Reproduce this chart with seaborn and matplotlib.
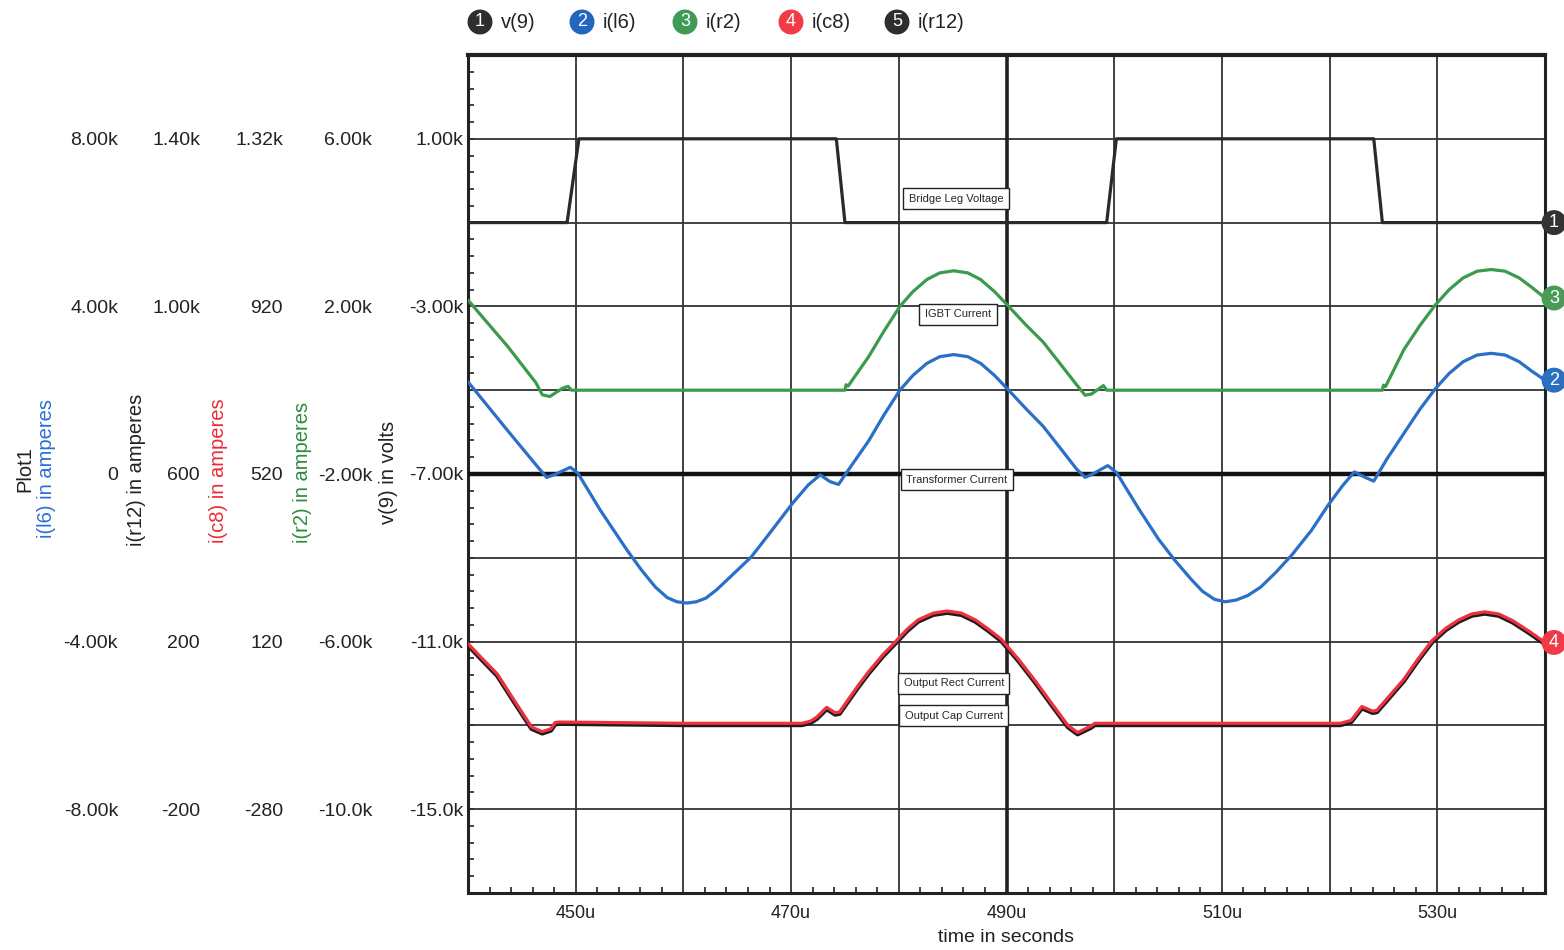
import matplotlib
matplotlib.use("Agg")
import matplotlib.pyplot as plt
import seaborn as sns
import numpy as np
from matplotlib.ticker import FixedLocator, MultipleLocator

sns.set_style("white")
plt.rcParams['font.family'] = ['Liberation Sans', 'DejaVu Sans']

# ---------------- data (time in microseconds) ----------------
v9_time = [440.0, 449.2, 450.3, 474.2, 475.0, 499.3, 500.2, 524.1, 524.9, 540.0]
v9_volts = [-1000, -1000, 1000, 1000, -1000, -1000, 1000, 1000, -1000, -1000]

l6_time = [440.0, 443.7, 446.5, 447.3, 448.0, 449.5, 450.2, 452.3, 454.8, 456.1, 457.4, 458.5,
           459.4, 460.3, 461.2, 462.1, 463.1, 464.5, 466.3, 468.2, 470.1, 471.6, 472.7, 473.6,
           474.4, 475.6, 477.2, 478.6, 480.1, 481.3, 482.6, 483.8, 485.1, 486.4, 487.6, 488.9,
           490.2, 491.8, 493.4, 495.2, 496.5, 497.3, 498.0, 499.4, 500.2, 502.3, 504.1, 505.6,
           507.1, 508.2, 509.3, 510.3, 511.3, 512.4, 513.6, 515.0, 516.5, 518.3, 519.9, 521.2,
           522.3, 523.3, 524.1, 525.3, 526.9, 528.4, 529.8, 531.1, 532.4, 533.7, 535.0, 536.3,
           537.6, 538.8, 540.0]
l6_amps = [2200, 1030, 160, -80, -20, 160, 20, -870, -1830, -2290, -2700, -2950,
           -3050, -3080, -3050, -2960, -2760, -2420, -1980, -1350, -710, -260, -20, -180,
           -250, 200, 790, 1400, 2000, 2350, 2640, 2800, 2850, 2800, 2640, 2350,
           2000, 1560, 1140, 550, 120, -80, 0, 200, 40, -840, -1550, -2050,
           -2500, -2800, -2990, -3050, -3010, -2900, -2700, -2350, -1930, -1350, -730, -280,
           50, -80, -170, 350, 970, 1550, 2030, 2400, 2680, 2840, 2880, 2840,
           2680, 2450, 2240]

r2_time = [440.0, 443.7, 446.3, 446.9, 447.6, 448.8, 449.3, 449.6, 475.0, 475.1, 475.3, 477.2,
           478.6, 480.1, 481.3, 482.6, 483.8, 485.1, 486.4, 487.6, 488.9, 490.2, 491.8, 493.4,
           495.2, 496.6, 497.3, 497.9, 499.0, 499.3, 524.9, 525.0, 525.2, 526.9, 528.4, 529.8,
           531.1, 532.4, 533.7, 535.0, 536.3, 537.6, 538.8, 540.0]
r2_amps = [2150, 1040, 180, -110, -150, 50, 90, 0, 0, 130, 100, 800,
           1400, 2000, 2350, 2640, 2800, 2850, 2800, 2640, 2350, 2000, 1560, 1150,
           560, 100, -120, -90, 110, 0, 0, 120, 90, 970, 1550, 2030,
           2400, 2680, 2840, 2880, 2840, 2680, 2450, 2200]

c8_time = [440.0, 441.3, 442.7, 444.3, 445.9, 446.9, 447.7, 448.1, 448.5, 460.0, 471.0, 471.8,
           472.4, 473.3, 474.1, 474.5, 476.2, 477.2, 478.5, 479.7, 480.8, 481.8, 483.2, 484.5,
           485.8, 487.1, 488.3, 489.5, 491.1, 492.7, 494.2, 495.7, 496.6, 497.8, 498.2, 510.0,
           521.0, 522.0, 523.0, 524.0, 524.4, 526.9, 528.2, 529.5, 530.8, 532.0, 533.2, 534.4,
           535.7, 537.0, 538.5, 540.0]
c8_amps = [115, 80, 43, -21, -84, -95, -88, -73, -72, -75, -75, -70,
           -60, -37, -50, -48, 14, 48, 88, 120, 150, 172, 188, 193,
           188, 172, 150, 126, 78, 25, -28, -80, -97, -82, -75, -75,
           -75, -68, -35, -46, -44, 30, 78, 122, 152, 172, 186, 191,
           186, 170, 145, 118]

r12_time = list(c8_time)
r12_amps = [191, 156, 119, 55, -8, -19, -12, 3, 4, 1, 1, 6,
            16, 39, 26, 28, 90, 124, 164, 196, 226, 248, 264, 269,
            264, 248, 226, 202, 154, 101, 48, -4, -21, -6, 1, 1,
            1, 8, 41, 30, 32, 106, 154, 198, 228, 248, 262, 267,
            262, 246, 221, 194]

x_ticks = [450, 470, 490, 510, 530]
x_ticklabels = ['450u', '470u', '490u', '510u', '530u']

v9_ticks = [1000, -3000, -7000, -11000, -15000]
v9_ticklabels = ['1.00k', '-3.00k', '-7.00k', '-11.0k', '-15.0k']
r2_ticks = [6000, 2000, -2000, -6000, -10000]
r2_ticklabels = ['6.00k', '2.00k', '-2.00k', '-6.00k', '-10.0k']
c8_ticks = [1320, 920, 520, 120, -280]
c8_ticklabels = ['1.32k', '920', '520', '120', '-280']
r12_ticks = [1400, 1000, 600, 200, -200]
r12_ticklabels = ['1.40k', '1.00k', '600', '200', '-200']
l6_ticks = [8000, 4000, 0, -4000, -8000]
l6_ticklabels = ['8.00k', '4.00k', '0', '-4.00k', '-8.00k']

legend_nums = ['1', '2', '3', '4', '5']
legend_names = ['v(9)', 'i(l6)', 'i(r2)', 'i(c8)', 'i(r12)']

# ---------------- styling ----------------
C_DARK = '#2a2a2a'
C_BLUE = '#2b6fc8'
C_GREEN = '#3c9a4c'
C_RED = '#f0303e'
C_BLACK = '#1c1c1c'
legend_colors = ['#2e2e2e', '#2465c0', '#3f9a55', '#f23b46', '#2e2e2e']

W, H = 1564, 950
fig = plt.figure(figsize=(W / 100, H / 100), dpi=100)
L, R, T, B = 468, 1545, 55, 893
ax = fig.add_axes([L / W, 1 - B / H, (R - L) / W, (B - T) / H])

PX = 0.72  # points per pixel

# main axis : v(9)
ax.set_xlim(440, 540)
ax.set_ylim(-17000, 3000)
ax.yaxis.set_major_locator(FixedLocator(np.arange(-15000, 1001, 2000)))
ax.yaxis.set_minor_locator(FixedLocator(np.arange(-17000, 3001, 400)))
lab_map = dict(zip(v9_ticks, v9_ticklabels))
ax.set_yticklabels([lab_map.get(int(v), '') for v in np.arange(-15000, 1001, 2000)])
ax.xaxis.set_major_locator(FixedLocator(np.arange(450, 531, 10)))
ax.xaxis.set_minor_locator(MultipleLocator(2))
xmap = dict(zip(x_ticks, x_ticklabels))
ax.set_xticklabels([xmap.get(int(v), '') for v in np.arange(450, 531, 10)])
ax.grid(True, which='major', color='#333333', lw=1.3)
ax.set_axisbelow(True)
ax.tick_params(axis='y', which='both', direction='in', length=6 * PX, width=1.3,
               color='#333333', left=True, right=False, pad=5 * PX,
               labelsize=14, labelcolor='#222222')
ax.tick_params(axis='x', which='major', length=0, pad=9, labelsize=13, labelcolor='#222222')
ax.tick_params(axis='x', which='minor', direction='in', length=6 * PX, width=1.3,
               color='#333333', bottom=True, top=False)
for name, sp in ax.spines.items():
    sp.set_visible(True)
    sp.set_color('#222222')
    sp.set_linewidth(2.2)
ax.spines['top'].set_linewidth(3.0)
ax.axvline(490, color='#222222', lw=2.6, zorder=0.9)
ax.set_xlabel('time in seconds', fontsize=14, labelpad=5, color='#222222')

sns.lineplot(x=v9_time, y=v9_volts, ax=ax, color=C_DARK, linewidth=2.3,
             sort=False, estimator=None)


def make_twin(ylim, ticks, labels, offset_px):
    tw = ax.twinx()
    tw.yaxis.tick_left()
    tw.spines['left'].set_position(('outward', offset_px * PX))
    for sp in tw.spines.values():
        sp.set_visible(False)
    tw.set_ylim(*ylim)
    tw.set_yticks(ticks)
    tw.set_yticklabels(labels)
    tw.tick_params(axis='y', length=0, pad=0, labelsize=14, labelcolor='#222222',
                   left=True, right=False, labelleft=True, labelright=False)
    tw.set_ylabel('')
    return tw


ax_r12 = make_twin((-400, 1600), r12_ticks, r12_ticklabels, 268)
ax_c8 = make_twin((-480, 1520), c8_ticks, c8_ticklabels, 185)
ax_r2 = make_twin((-12000, 8000), r2_ticks, r2_ticklabels, 96)
ax_l6 = make_twin((-10000, 10000), l6_ticks, l6_ticklabels, 350)

ax_l6.axhline(0, color='#111111', lw=3.2, zorder=1)

sns.lineplot(x=r12_time, y=r12_amps, ax=ax_r12, color=C_BLACK, linewidth=3.2,
             sort=False, estimator=None)
sns.lineplot(x=c8_time, y=c8_amps, ax=ax_c8, color=C_RED, linewidth=2.3,
             sort=False, estimator=None)
sns.lineplot(x=r2_time, y=r2_amps, ax=ax_r2, color=C_GREEN, linewidth=2.3,
             sort=False, estimator=None)
sns.lineplot(x=l6_time, y=l6_amps, ax=ax_l6, color=C_BLUE, linewidth=2.3,
             sort=False, estimator=None)

for tw, lim in [(ax_r12, (-400, 1600)), (ax_c8, (-480, 1520)),
                (ax_r2, (-12000, 8000)), (ax_l6, (-10000, 10000))]:
    tw.set_ylim(*lim)
    tw.set_ylabel('')
ax.set_ylim(-17000, 3000)
ax.set_xlim(440, 540)
ax.set_ylabel('')

# trace annotations (drawn on the top-most axes, positioned in v(9) coordinates)
box = dict(boxstyle='square,pad=0.5', fc='white', ec='#222222', lw=1.0)
for xx, yy, s in [(485.3, -430, 'Bridge Leg Voltage'),
                  (485.5, -3190, 'IGBT Current'),
                  (485.4, -7140, 'Transformer Current'),
                  (485.1, -12000, 'Output Rect Current'),
                  (485.1, -12770, 'Output Cap Current')]:
    ax_l6.text(xx, yy, s, fontsize=8, ha='center', va='center', bbox=box, zorder=6,
               transform=ax.transData)

# right-end markers
for tw, tt, vv, num, col in [(ax, v9_time, v9_volts, '1', '#333333'),
                             (ax_r2, r2_time, r2_amps, '3', '#4a9a58'),
                             (ax_l6, l6_time, l6_amps, '2', '#2a6fc0'),
                             (ax_c8, c8_time, c8_amps, '4', '#f03a48')]:
    tw.annotate(num, xy=(tt[-1], vv[-1]), xytext=(9, 0), textcoords='offset pixels',
                ha='center', va='center', color='white', fontsize=13,
                bbox=dict(boxstyle='circle,pad=0.22', fc=col, ec='none'),
                annotation_clip=False, zorder=10)

# legend at top
circ_x = [480, 582, 685, 791, 897]
for num, name, col, cx in zip(legend_nums, legend_names, legend_colors, circ_x):
    fig.text(cx / W, 1 - 22 / H, num, ha='center', va='center', color='white', fontsize=13,
             bbox=dict(boxstyle='circle,pad=0.22', fc=col, ec='none'))
    fig.text((cx + 21) / W, 1 - 22 / H, name, ha='left', va='center', color='#222222', fontsize=14.5)

# axis titles on the left
fig.text(25 / W, 1 - 469 / H, 'Plot1', rotation=90, ha='center', va='center', fontsize=14.5, color='#222222')
fig.text(47 / W, 1 - 469 / H, 'i(l6) in amperes', rotation=90, ha='center', va='center', fontsize=14.5, color='#2a6fd6')
fig.text(137 / W, 1 - 470 / H, 'i(r12) in amperes', rotation=90, ha='center', va='center', fontsize=14.5, color='#222222')
fig.text(218 / W, 1 - 471 / H, 'i(c8) in amperes', rotation=90, ha='center', va='center', fontsize=14.5, color='#ee2a36')
fig.text(302 / W, 1 - 472 / H, 'i(r2) in amperes', rotation=90, ha='center', va='center', fontsize=14.5, color='#2e8b3a')
fig.text(389 / W, 1 - 472 / H, 'v(9) in volts', rotation=90, ha='center', va='center', fontsize=14.5, color='#222222')

fig.savefig('out.png', dpi=100, facecolor='white')
